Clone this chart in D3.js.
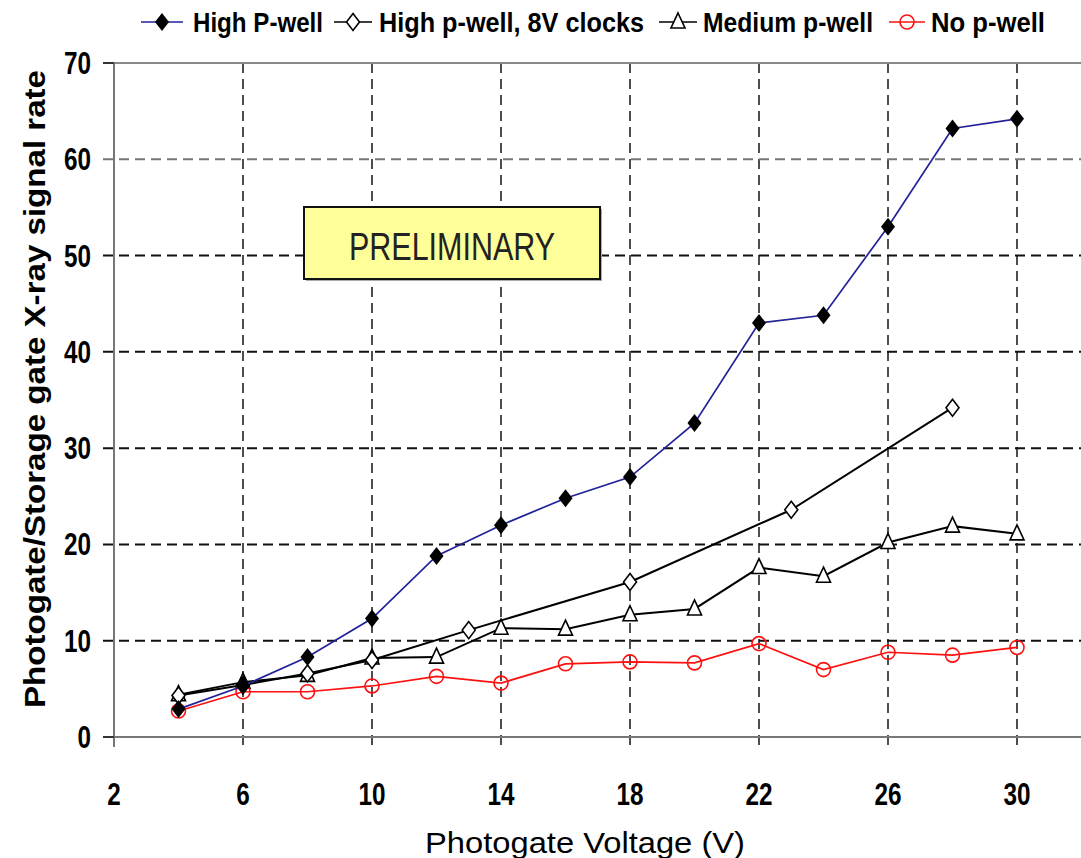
<!DOCTYPE html>
<html>
<head>
<meta charset="utf-8">
<script src="https://cdn.jsdelivr.net/npm/d3@7"></script>
<style>
  body { margin: 0; background: #fff; }
  svg { display: block; font-family: 'Liberation Sans Narrow', 'Liberation Sans', Arial, sans-serif; }
</style>
</head>
<body>
<svg id="chart" width="1081" height="858"></svg>
<script>
// data
var voltsFull = [4, 6, 8, 10, 12, 14, 16, 18, 20, 22, 24, 26, 28, 30]
var highPwell = [2.9, 5.3, 8.3, 12.3, 18.8, 22.0, 24.8, 27.0, 32.6, 43.0, 43.8, 53.0, 63.2, 64.2]
var volts8V = [4, 6, 8, 10, 13, 18, 23, 28]
var highP8V = [4.3, 5.4, 6.6, 8.0, 11.1, 16.1, 23.6, 34.2]
var mediumPwell = [4.4, 5.7, 6.4, 8.2, 8.3, 11.3, 11.2, 12.7, 13.3, 17.6, 16.7, 20.2, 21.9, 21.1]
var noPwell = [2.7, 4.7, 4.7, 5.3, 6.3, 5.6, 7.6, 7.8, 7.7, 9.7, 7.0, 8.8, 8.5, 9.3]
var xTicks = [2, 6, 10, 14, 18, 22, 26, 30]
var yTicks = [0, 10, 20, 30, 40, 50, 60, 70]
var legendNames = ['High P-well', 'High p-well, 8V clocks', 'Medium p-well', 'No p-well']

var svg = d3.select('#chart')

var x = d3.scaleLinear().domain([2, 32]).range([114, 1081.5])
var y = d3.scaleLinear().domain([0, 70]).range([737, 63])

var zip = (xs, ys) => xs.map((v, i) => [v, ys[i]])

var series = [
    { name: legendNames[2], pts: zip(voltsFull, mediumPwell), line: '#000', width: 2, marker: 'tri' },
    { name: legendNames[1], pts: zip(volts8V, highP8V), line: '#000', width: 2, marker: 'odiam' },
    { name: legendNames[3], pts: zip(voltsFull, noPwell), line: '#ff1010', width: 1.7, marker: 'circ' },
    { name: legendNames[0], pts: zip(voltsFull, highPwell), line: '#22229a', width: 1.7, marker: 'fdiam' }
]

// grid
var grid = svg.append('g')
grid.selectAll('line.vg')
    .data(xTicks.slice(1))
    .enter().append('line')
    .attr('x1', d => x(d)).attr('x2', d => x(d))
    .attr('y1', y(70)).attr('y2', y(0) + 10)
    .attr('stroke', '#222').attr('stroke-width', 1.6)
    .attr('stroke-dasharray', '10,6')
grid.selectAll('line.hg')
    .data(yTicks.slice(1, -1))
    .enter().append('line')
    .attr('x1', 103).attr('x2', 1081)
    .attr('y1', d => y(d)).attr('y2', d => y(d))
    .attr('stroke', d => d == 60 ? '#777' : '#111').attr('stroke-width', 2)
    .attr('stroke-dasharray', '10,6')

// frame
svg.append('line').attr('x1', x(2)).attr('x2', 1081).attr('y1', y(70)).attr('y2', y(70))
    .attr('stroke', '#888').attr('stroke-width', 2)
svg.append('line').attr('x1', x(2)).attr('x2', 1081).attr('y1', y(0)).attr('y2', y(0))
    .attr('stroke', '#777').attr('stroke-width', 2)
svg.append('line').attr('x1', x(2)).attr('x2', x(2)).attr('y1', y(70)).attr('y2', y(0) + 10)
    .attr('stroke', '#777').attr('stroke-width', 2)
svg.selectAll('line.yt')
    .data([0, 70])
    .enter().append('line')
    .attr('x1', 103).attr('x2', x(2))
    .attr('y1', d => y(d)).attr('y2', d => y(d))
    .attr('stroke', '#333').attr('stroke-width', 2)

// tick labels, squeezed to the narrow face of the original
svg.selectAll('text.xl')
    .data(xTicks)
    .enter().append('text')
    .attr('x', d => x(d)).attr('y', 805)
    .attr('text-anchor', 'middle')
    .attr('font-size', 31).attr('font-weight', 'bold')
    .attr('textLength', d => String(d).length * 13.5).attr('lengthAdjust', 'spacingAndGlyphs')
    .text(d => d)
svg.selectAll('text.yl')
    .data(yTicks)
    .enter().append('text')
    .attr('x', 91).attr('y', d => y(d) + 11)
    .attr('text-anchor', 'end')
    .attr('font-size', 31).attr('font-weight', 'bold')
    .attr('textLength', d => String(d).length * 13.5).attr('lengthAdjust', 'spacingAndGlyphs')
    .text(d => d)

// axis titles
svg.append('text')
    .attr('transform', 'translate(45,' + 389 + ') rotate(-90)')
    .attr('text-anchor', 'middle')
    .attr('font-size', 29).attr('font-weight', 'bold')
    .attr('textLength', 638).attr('lengthAdjust', 'spacingAndGlyphs')
    .text('Photogate/Storage gate X-ray signal rate')
svg.append('text')
    .attr('x', 585).attr('y', 853)
    .attr('text-anchor', 'middle')
    .attr('font-size', 30)
    .attr('textLength', 320).attr('lengthAdjust', 'spacingAndGlyphs')
    .text('Photogate Voltage (V)')

// PRELIMINARY box
svg.append('rect').attr('x', 306).attr('y', 209).attr('width', 296).attr('height', 72)
    .attr('fill', '#aaa')
svg.append('rect').attr('x', 304).attr('y', 207).attr('width', 296).attr('height', 72)
    .attr('fill', '#ffff99').attr('stroke', '#111').attr('stroke-width', 2)
svg.append('text')
    .attr('x', 452).attr('y', 260)
    .attr('text-anchor', 'middle')
    .attr('font-size', 38).attr('fill', '#222')
    .attr('textLength', 206).attr('lengthAdjust', 'spacingAndGlyphs')
    .text('PRELIMINARY')

function drawMarker(sel, kind, color) {
    if (kind == 'fdiam') {
        sel.append('path').attr('d', 'M0,-9L7,0L0,9L-7,0Z').attr('fill', '#000')
    } else if (kind == 'odiam') {
        sel.append('path').attr('d', 'M0,-8.5L6.5,0L0,8.5L-6.5,0Z')
            .attr('fill', '#fff').attr('stroke', '#000').attr('stroke-width', 1.6)
    } else if (kind == 'tri') {
        sel.append('path').attr('d', 'M0,-9L7,6L-7,6Z')
            .attr('fill', '#fff').attr('stroke', '#000').attr('stroke-width', 1.6)
    } else {
        sel.append('circle').attr('r', 7)
            .attr('fill', 'none').attr('stroke', color).attr('stroke-width', 1.6)
    }
}

var line = d3.line().x(d => x(d[0])).y(d => y(d[1]))

series.forEach(s => {
    var g = svg.append('g')
    g.append('path')
        .attr('d', line(s.pts))
        .attr('fill', 'none')
        .attr('stroke', s.line)
        .attr('stroke-width', s.width)
    g.selectAll('g.m')
        .data(s.pts)
        .enter().append('g')
        .attr('transform', d => 'translate(' + x(d[0]) + ',' + y(d[1]) + ')')
        .each(function () { drawMarker(d3.select(this), s.marker, s.line) })
})

// legend
var legendItems = [
    { name: legendNames[0], line: '#22229a', marker: 'fdiam', x0: 141, x1: 183, tx: 193, tl: 130 },
    { name: legendNames[1], line: '#000', marker: 'odiam', x0: 334, x1: 372, tx: 379, tl: 265 },
    { name: legendNames[2], line: '#000', marker: 'tri', x0: 659, x1: 697, tx: 703, tl: 170 },
    { name: legendNames[3], line: '#ff1010', marker: 'circ', x0: 889, x1: 925, tx: 931, tl: 114 }
]
var lg = svg.selectAll('g.leg')
    .data(legendItems)
    .enter().append('g')
lg.append('line')
    .attr('x1', d => d.x0).attr('x2', d => d.x1)
    .attr('y1', 22).attr('y2', 22)
    .attr('stroke', d => d.line).attr('stroke-width', 1.6)
lg.append('g')
    .attr('transform', d => 'translate(' + (d.x0 + d.x1) / 2 + ',22)')
    .each(function (d) { drawMarker(d3.select(this), d.marker, d.line) })
lg.append('text')
    .attr('x', d => d.tx).attr('y', 32)
    .attr('font-size', 28).attr('font-weight', 'bold')
    .attr('textLength', d => d.tl).attr('lengthAdjust', 'spacingAndGlyphs')
    .text(d => d.name)
</script>
</body>
</html>
